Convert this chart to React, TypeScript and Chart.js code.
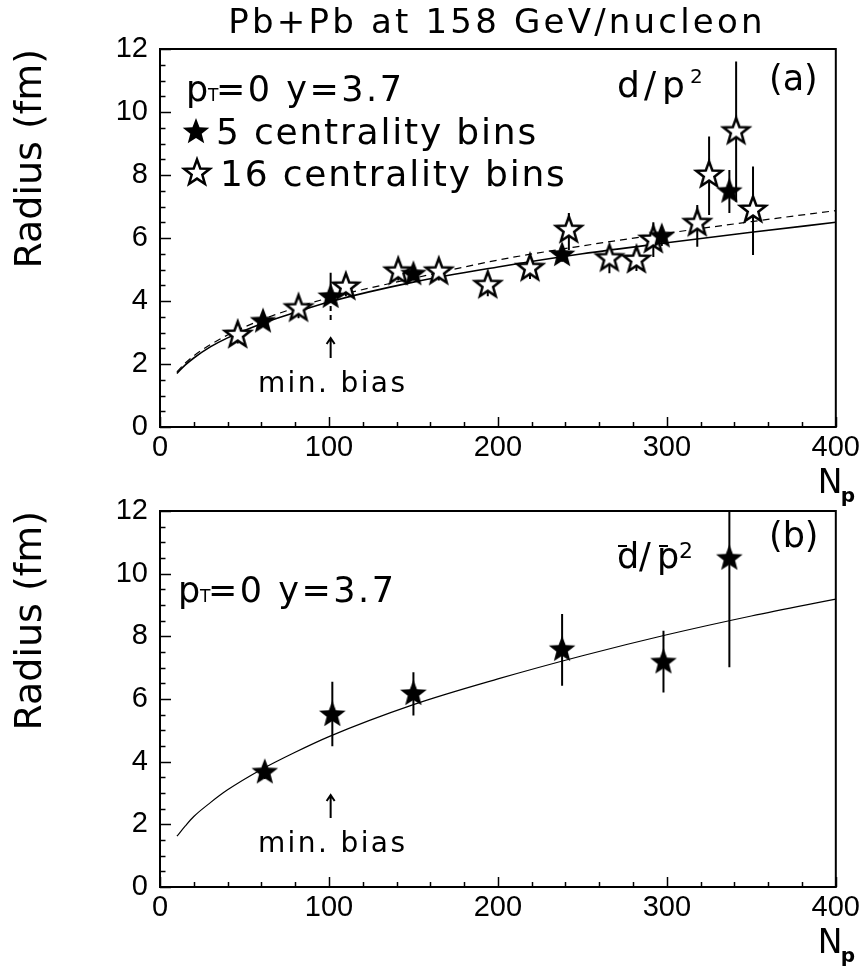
import React, { useEffect, useRef } from 'react';
import { Chart, registerables } from 'chart.js';

Chart.register(...registerables);

// ---------------- data ----------------
const TITLE = 'Pb+Pb at 158 GeV/nucleon';
const Y_TITLE = 'Radius (fm)';
const X_TICKS = [0, 100, 200, 300, 400];
const Y_TICKS = [0, 2, 4, 6, 8, 10, 12];
const X_MINOR_STEP = 20;
const Y_MINOR_STEP = 0.5;
const MIN_BIAS_NP = 101;

// panel (a): d/p^2, 5 centrality bins (filled) incl. min. bias point
const npFiveA = [61, 101, 150, 238, 297, 337];
const rFiveA = [3.35, 4.13, 4.85, 5.46, 6.05, 7.47];
const rFiveAHi = [3.5, 4.9, 5.05, 5.65, 6.35, 8.16];
const rFiveALo = [3.2, 3.4, 4.65, 5.25, 5.75, 6.79];

// panel (a): 16 centrality bins (open)
const npSixteenA = [46, 82, 110, 141, 165, 194, 219, 242, 266, 282, 292, 318, 325, 341, 351];
const rSixteenA = [2.92, 3.76, 4.45, 4.93, 4.93, 4.5, 5.04, 6.25, 5.35, 5.3, 5.94, 6.47, 8.0, 9.38, 6.89];
const rSixteenAHi = [3.2, 4.05, 4.75, 5.2, 5.2, 4.85, 5.35, 6.79, 5.7, 5.65, 6.5, 7.05, 9.22, 11.6, 8.27];
const rSixteenALo = [2.65, 3.45, 4.15, 4.65, 4.65, 4.15, 4.7, 5.62, 4.88, 4.95, 5.4, 5.72, 6.73, 7.15, 5.46];

// fit curves
const fitNp = [10, 15, 20, 30, 40, 60, 80, 100, 150, 200, 250, 300, 350, 400];
const fitSolidA = [1.7, 1.97, 2.19, 2.55, 2.83, 3.28, 3.64, 3.97, 4.6, 5.08, 5.5, 5.85, 6.18, 6.5];
const fitDashedA = [1.75, 2.03, 2.26, 2.62, 2.92, 3.4, 3.78, 4.1, 4.72, 5.3, 5.75, 6.15, 6.52, 6.87];

// panel (b): dbar/pbar^2
const npB = [62, 102, 150, 238, 298, 337];
const rB = [3.66, 5.49, 6.16, 7.57, 7.17, 10.48];
const rBHi = [3.85, 6.55, 6.85, 8.71, 8.18, 12.5];
const rBLo = [3.45, 4.49, 5.47, 6.42, 6.21, 7.01];
const fitB = [1.62, 1.95, 2.25, 2.7, 3.1, 3.75, 4.3, 4.8, 5.82, 6.64, 7.38, 8.05, 8.65, 9.19];

// ---------------- helpers ----------------
const FONT_TXT = '"DejaVu Sans", sans-serif';
const FONT_TICK = '"Liberation Sans", Arial, sans-serif';

function starPath(ctx: CanvasRenderingContext2D, cx: number, cy: number, R: number, r: number) {
  ctx.beginPath();
  for (let i = 0; i < 10; i++) {
    const ang = -Math.PI / 2 + (i * Math.PI) / 5;
    const rad = i % 2 === 0 ? R : r;
    const x = cx + rad * Math.cos(ang);
    const y = cy + rad * Math.sin(ang);
    if (i === 0) ctx.moveTo(x, y);
    else ctx.lineTo(x, y);
  }
  ctx.closePath();
}

function paintStar(ctx: CanvasRenderingContext2D, cx: number, cy: number, filled: boolean) {
  ctx.save();
  if (filled) {
    starPath(ctx, cx, cy, 14, 6);
    ctx.fillStyle = '#000';
    ctx.fill();
  } else {
    starPath(ctx, cx, cy, 13.5, 5.6);
    ctx.fillStyle = '#fff';
    ctx.fill();
    ctx.lineWidth = 2.5;
    ctx.lineJoin = 'miter';
    ctx.strokeStyle = '#000';
    ctx.stroke();
  }
  ctx.restore();
}

function makeStarImage(filled: boolean): HTMLCanvasElement {
  const size = 36;
  const c = document.createElement('canvas');
  c.width = size;
  c.height = size;
  const ctx = c.getContext('2d') as CanvasRenderingContext2D;
  paintStar(ctx, size / 2, size / 2, filled);
  return c;
}

function drawText(
  ctx: CanvasRenderingContext2D,
  s: string,
  x: number,
  y: number,
  size: number,
  spacing = 0,
  align: CanvasTextAlign = 'left',
  weight = 'normal'
) {
  ctx.save();
  ctx.font = `${weight} ${size}px ${FONT_TXT}`;
  (ctx as any).letterSpacing = `${spacing}px`;
  ctx.textAlign = align;
  ctx.textBaseline = 'alphabetic';
  ctx.fillStyle = '#000';
  ctx.fillText(s, x, y);
  const w = ctx.measureText(s).width;
  ctx.restore();
  return w;
}

function drawPtLabel(ctx: CanvasRenderingContext2D, x: number, baseline: number) {
  drawText(ctx, 'p', x - 2, baseline, 35);
  drawText(ctx, 'T', x + 20, baseline, 17);
  drawText(ctx, '=0 y=3.7', x + 28, baseline, 35, 2.5);
}

function drawMinBias(ctx: CanvasRenderingContext2D, chart: any, tipY: number, baseY: number, textY: number) {
  const px = chart.scales.x.getPixelForValue(MIN_BIAS_NP);
  ctx.save();
  ctx.strokeStyle = '#000';
  ctx.lineWidth = 2;
  ctx.beginPath();
  ctx.moveTo(px, baseY);
  ctx.lineTo(px, tipY);
  ctx.moveTo(px - 4, tipY + 6);
  ctx.lineTo(px, tipY);
  ctx.lineTo(px + 4, tipY + 6);
  ctx.stroke();
  ctx.restore();
  drawText(ctx, 'min. bias', px + 2, textY, 28, 2.4, 'center');
}

function drawNp(ctx: CanvasRenderingContext2D, chart: any) {
  const a = chart.chartArea;
  const base = a.bottom + 66;
  drawText(ctx, 'N', a.right - 18, base, 33);
  drawText(ctx, 'p', a.right + 5, base + 9, 20, 0, 'left', 'bold');
}

type ErrSet = { x: number[]; y: number[]; hi: number[]; lo: number[]; dashedLow?: number[] };

function errorBarPlugin(sets: ErrSet[]) {
  return {
    id: 'errorBars',
    beforeDatasetsDraw(chart: any) {
      const { ctx, chartArea: a } = chart;
      const xs = chart.scales.x;
      const ys = chart.scales.y;
      ctx.save();
      ctx.beginPath();
      ctx.rect(a.left, a.top, a.right - a.left, a.bottom - a.top);
      ctx.clip();
      ctx.strokeStyle = '#000';
      ctx.lineWidth = 2;
      sets.forEach((s) => {
        s.x.forEach((xv, i) => {
          const px = xs.getPixelForValue(xv);
          const pc = ys.getPixelForValue(s.y[i]);
          const ph = ys.getPixelForValue(s.hi[i]);
          const pl = ys.getPixelForValue(s.lo[i]);
          ctx.setLineDash([]);
          ctx.beginPath();
          ctx.moveTo(px, ph);
          ctx.lineTo(px, pc);
          ctx.stroke();
          ctx.setLineDash(s.dashedLow && s.dashedLow.includes(i) ? [5, 4] : []);
          ctx.beginPath();
          ctx.moveTo(px, pc);
          ctx.lineTo(px, pl);
          ctx.stroke();
        });
      });
      ctx.restore();
    },
  };
}

const frameTicksPlugin = {
  id: 'frameTicks',
  afterDatasetsDraw(chart: any) {
    const { ctx, chartArea: a } = chart;
    const xs = chart.scales.x;
    const ys = chart.scales.y;
    ctx.save();
    ctx.strokeStyle = '#000';
    ctx.lineWidth = 1.5;
    const yMin = Y_TICKS[0];
    const yMax = Y_TICKS[Y_TICKS.length - 1];
    for (let v = yMin; v <= yMax + 1e-9; v += Y_MINOR_STEP) {
      const major = Y_TICKS.some((t) => Math.abs(t - v) < 1e-6);
      const y = Math.round(ys.getPixelForValue(v)) + 0.5;
      ctx.beginPath();
      ctx.moveTo(a.left, y);
      ctx.lineTo(a.left + (major ? 11 : 5.5), y);
      ctx.stroke();
    }
    const xMin = X_TICKS[0];
    const xMax = X_TICKS[X_TICKS.length - 1];
    for (let v = xMin; v <= xMax + 1e-9; v += X_MINOR_STEP) {
      const major = X_TICKS.some((t) => Math.abs(t - v) < 1e-6);
      const x = Math.round(xs.getPixelForValue(v)) + 0.5;
      ctx.beginPath();
      ctx.moveTo(x, a.bottom);
      ctx.lineTo(x, a.bottom - (major ? 10 : 5));
      ctx.stroke();
    }
    ctx.lineWidth = 2;
    ctx.strokeRect(a.left, a.top, a.right - a.left, a.bottom - a.top);
    ctx.restore();
  },
};

function pts(xs: number[], ys: number[]) {
  return xs.map((x, i) => ({ x, y: ys[i] }));
}

function baseOptions(padTop: number, xAxisHeight: number): any {
  return {
    responsive: false,
    animation: false,
    events: [],
    layout: { padding: { top: padTop, right: 27, left: 0, bottom: 0 } },
    plugins: { legend: { display: false }, tooltip: { enabled: false }, title: { display: false } },
    scales: {
      x: {
        type: 'linear',
        min: X_TICKS[0],
        max: X_TICKS[X_TICKS.length - 1],
        afterBuildTicks: (s: any) => {
          s.ticks = X_TICKS.map((v) => ({ value: v }));
        },
        ticks: {
          padding: 4,
          color: '#000',
          maxRotation: 0,
          autoSkip: false,
          font: { family: FONT_TICK, size: 29 },
        },
        grid: { display: false, drawTicks: false },
        border: { display: false },
        afterFit: (s: any) => {
          s.height = xAxisHeight;
        },
      },
      y: {
        type: 'linear',
        min: Y_TICKS[0],
        max: Y_TICKS[Y_TICKS.length - 1],
        afterBuildTicks: (s: any) => {
          s.ticks = Y_TICKS.map((v) => ({ value: v }));
        },
        ticks: {
          padding: 12,
          color: '#000',
          autoSkip: false,
          font: { family: FONT_TICK, size: 29 },
        },
        grid: { display: false, drawTicks: false },
        border: { display: false },
        title: {
          display: true,
          text: Y_TITLE,
          align: 'end',
          color: '#000',
          font: { family: FONT_TXT, size: 38 },
          padding: { top: 8, bottom: 0 },
        },
        afterFit: (s: any) => {
          s.width = 160;
        },
      },
    },
  };
}

function configA(): any {
  const filled = makeStarImage(true);
  const open = makeStarImage(false);
  return {
    type: 'scatter',
    data: {
      datasets: [
        {
          label: '5 centrality bins',
          data: pts(npFiveA, rFiveA),
          pointStyle: filled,
          pointRadius: 12,
          order: 0,
        },
        {
          label: '16 centrality bins',
          data: pts(npSixteenA, rSixteenA),
          pointStyle: open,
          pointRadius: 13,
          order: 1,
        },
        {
          label: 'fit (dashed)',
          data: pts(fitNp, fitDashedA),
          showLine: true,
          pointRadius: 0,
          borderColor: '#000',
          borderWidth: 1.2,
          borderDash: [7, 5],
          cubicInterpolationMode: 'monotone',
          order: 2,
        },
        {
          label: 'fit (solid)',
          data: pts(fitNp, fitSolidA),
          showLine: true,
          pointRadius: 0,
          borderColor: '#000',
          borderWidth: 1.6,
          cubicInterpolationMode: 'monotone',
          order: 3,
        },
      ],
    },
    options: baseOptions(49, 83),
    plugins: [
      errorBarPlugin([
        { x: npSixteenA, y: rSixteenA, hi: rSixteenAHi, lo: rSixteenALo },
        { x: npFiveA, y: rFiveA, hi: rFiveAHi, lo: rFiveALo, dashedLow: [1] },
      ]),
      frameTicksPlugin,
      {
        id: 'annotA',
        afterDraw(chart: any) {
          const ctx = chart.ctx as CanvasRenderingContext2D;
          drawText(ctx, TITLE, 497, 33, 34, 3.2, 'center');
          drawPtLabel(ctx, 188, 101);
          paintStar(ctx, 196, 132, true);
          drawText(ctx, '5 centrality bins', 216, 144, 36, 1.8);
          paintStar(ctx, 197, 173, false);
          drawText(ctx, '16 centrality bins', 220, 186, 36, 1.8);
          drawText(ctx, 'd', 617, 97, 36);
          drawText(ctx, '/', 644, 97, 36);
          drawText(ctx, 'p', 662, 97, 36);
          drawText(ctx, '2', 690, 83, 20);
          drawText(ctx, '(a)', 769, 90, 35);
          drawMinBias(ctx, chart, 338, 358, 392);
          drawNp(ctx, chart);
        },
      },
    ],
  };
}

function configB(): any {
  const filled = makeStarImage(true);
  return {
    type: 'scatter',
    data: {
      datasets: [
        {
          label: 'dbar/pbar^2',
          data: pts(npB, rB),
          pointStyle: filled,
          pointRadius: 12,
          order: 0,
        },
        {
          label: 'fit',
          data: pts(fitNp, fitB),
          showLine: true,
          pointRadius: 0,
          borderColor: '#000',
          borderWidth: 1.2,
          cubicInterpolationMode: 'monotone',
          order: 1,
        },
      ],
    },
    options: baseOptions(31, 86),
    plugins: [
      errorBarPlugin([{ x: npB, y: rB, hi: rBHi, lo: rBLo }]),
      frameTicksPlugin,
      {
        id: 'annotB',
        afterDraw(chart: any) {
          const ctx = chart.ctx as CanvasRenderingContext2D;
          drawPtLabel(ctx, 180, 122);
          drawText(ctx, 'd', 617, 88, 35);
          drawText(ctx, '/', 639, 88, 35);
          drawText(ctx, 'p', 657, 88, 35);
          drawText(ctx, '2', 679, 78, 22);
          ctx.save();
          ctx.strokeStyle = '#000';
          ctx.lineWidth = 2;
          ctx.beginPath();
          ctx.moveTo(618, 66);
          ctx.lineTo(627, 66);
          ctx.moveTo(659, 66);
          ctx.lineTo(668, 66);
          ctx.stroke();
          ctx.restore();
          drawText(ctx, '(b)', 769, 67, 35);
          drawMinBias(ctx, chart, 315, 338, 372);
          drawNp(ctx, chart);
        },
      },
    ],
  };
}

function ChartCanvas({ top, height, makeConfig }: { top: number; height: number; makeConfig: () => any }) {
  const ref = useRef<HTMLCanvasElement>(null);
  useEffect(() => {
    const chart = new Chart(ref.current as HTMLCanvasElement, makeConfig());
    return () => chart.destroy();
  }, []);
  return (
    <canvas
      ref={ref}
      width={864}
      height={height}
      style={{ position: 'absolute', left: 0, top, width: 864, height, display: 'block' }}
    />
  );
}

export default function App() {
  return (
    <div style={{ position: 'absolute', left: 0, top: 0, width: 864, height: 973, background: '#fff' }}>
      <ChartCanvas top={480} height={493} makeConfig={configB} />
      <ChartCanvas top={0} height={510} makeConfig={configA} />
    </div>
  );
}
